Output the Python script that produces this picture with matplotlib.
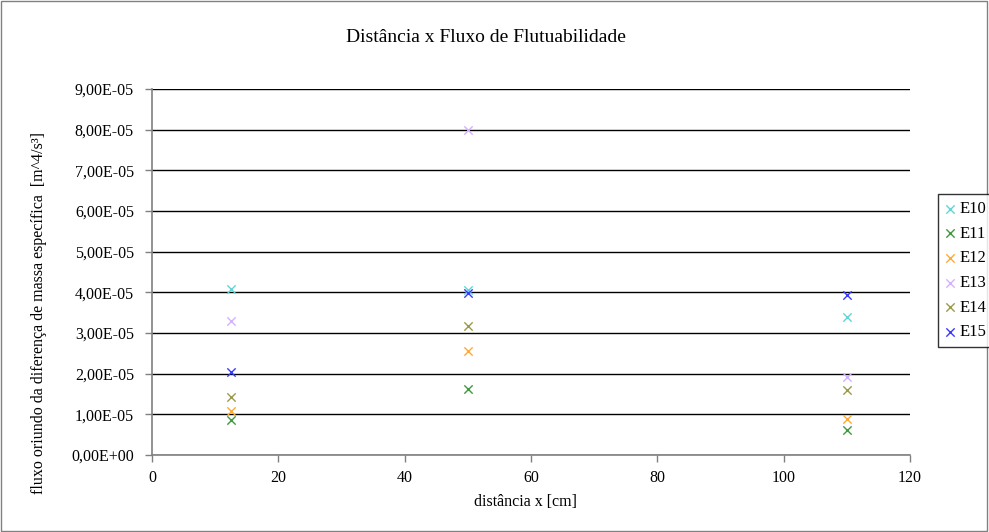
import matplotlib.pyplot as plt
from matplotlib.patches import Rectangle
from matplotlib.ticker import FuncFormatter, MultipleLocator

plt.rcParams["font.family"] = ["Liberation Serif", "DejaVu Serif"]

# distância x [cm] for each measurement point
distance = [12.5, 50, 110]

# buoyancy flux per experiment [m^4/s^3]
e10 = [4.08e-5, 4.06e-5, 3.39e-5]
e11 = [0.86e-5, 1.62e-5, 0.61e-5]
e12 = [1.08e-5, 2.56e-5, 0.89e-5]
e13 = [3.29e-5, 7.99e-5, 1.92e-5]
e14 = [1.43e-5, 3.17e-5, 1.60e-5]
e15 = [2.04e-5, 3.98e-5, 3.93e-5]

series = [("E10", e10, "#5fd6d6"), ("E11", e11, "#3f9a3f"),
          ("E12", e12, "#ffaa33"), ("E13", e13, "#d4b0ff"),
          ("E14", e14, "#9a9a4a"), ("E15", e15, "#3a3aff")]


def sci_comma(v, pos):
    return f"{v:.2E}".replace(".", ",")


fig = plt.figure(figsize=(9.89, 5.32), dpi=100)
fig.patches.append(Rectangle((0.001, 0.001), 0.997, 0.997, transform=fig.transFigure,
                             fill=False, edgecolor="#808080", linewidth=1.0))
ax = fig.add_axes([0.1537, 0.1447, 0.7664, 0.6880])

for name, vals, color in series:
    ax.scatter(distance, vals, marker="x", s=36, color=color, linewidths=1.0,
               label=name, zorder=3)

ax.set_xlim(0, 120)
ax.set_ylim(0, 9e-5)
ax.xaxis.set_major_locator(MultipleLocator(20))
ax.yaxis.set_major_locator(MultipleLocator(1e-5))
ax.yaxis.set_major_formatter(FuncFormatter(sci_comma))
ax.grid(True, axis="y", color="black", linewidth=1.0, zorder=1)
ax.set_axisbelow(True)

for side in ["top", "right"]:
    ax.spines[side].set_visible(False)
for side in ["left", "bottom"]:
    ax.spines[side].set_color("#808080")
    ax.spines[side].set_linewidth(1.2)
ax.tick_params(axis="both", labelsize=11.5, color="#808080", length=5, width=1)
ax.tick_params(axis="y", pad=8)
ax.tick_params(axis="x", pad=6)

fig.text(0.531, 0.057, "distância x [cm]", ha="center", va="center", fontsize=11.5)
fig.text(0.039, 0.412, "fluxo oriundo da diferença de massa específica  [m^4/s³]",
         ha="center", va="center", rotation=90, fontsize=11.5)
fig.text(0.491, 0.929, "Distância x Fluxo de Flutuabilidade", ha="center", va="center", fontsize=14)

leg = fig.legend(loc="center left", bbox_to_anchor=(0.948, 0.491), frameon=True,
                 fancybox=False, edgecolor="black", fontsize=12, handlelength=0.7,
                 handletextpad=0.2, borderpad=0.4, labelspacing=0.52,
                 scatterpoints=1, borderaxespad=0)
leg.get_frame().set_linewidth(1.0)

fig.savefig("out.png", dpi=100)
